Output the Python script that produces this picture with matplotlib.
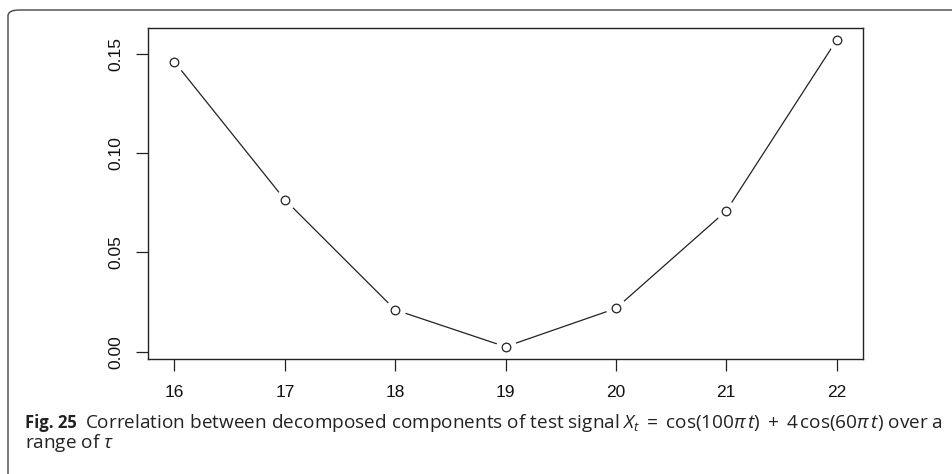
import matplotlib.pyplot as plt
from matplotlib.patches import FancyBboxPatch

# correlation between decomposed components for each embedding lag tau
tau = [16, 17, 18, 19, 20, 21, 22]
corr = [0.146, 0.0766, 0.0211, 0.0025, 0.0218, 0.0709, 0.1569]
yticks = [0.00, 0.05, 0.10, 0.15]
ytick_labels = ['0.00', '0.05', '0.10', '0.15']

caption_bold = 'Fig. 25'
caption_line1 = (r'Correlation between decomposed components of test signal '
                 r'$X_t\;=\;\mathrm{cos}(100\pi\,t)\;+\;4\,\mathrm{cos}(60\pi\,t)$ over a')
caption_line2 = r'range of $\tau$'

plt.rcParams['font.family'] = ['Liberation Sans', 'DejaVu Sans']
plt.rcParams['mathtext.fontset'] = 'custom'
plt.rcParams['mathtext.rm'] = 'Open Sans'
plt.rcParams['mathtext.it'] = 'Open Sans:italic'
plt.rcParams['mathtext.bf'] = 'Open Sans:bold'

W, H = 953, 474
fig = plt.figure(figsize=(W / 100, H / 100), dpi=100)

# outer frame of the figure panel, rounded at the top-left corner
frame = FancyBboxPatch((8 / W, -0.2), 1.2, 1 - 10 / H + 0.2,
                       boxstyle='round,pad=0,rounding_size=0.012',
                       transform=fig.transFigure, fill=False,
                       edgecolor='#444444', linewidth=1.0)
fig.patches.append(frame)

ax = fig.add_axes([148 / W, 1 - 359 / H, (863 - 148) / W, (359 - 28) / H])

# R style "type b": line broken around each open circle
ax.plot(tau, corr, color='#222222', linewidth=0.9, zorder=2)
ax.plot(tau, corr, linestyle='none', marker='o', markersize=14,
        markerfacecolor='white', markeredgecolor='white', zorder=2.1)
ax.plot(tau, corr, linestyle='none', marker='o', markersize=6.2,
        markerfacecolor='white', markeredgecolor='#222222',
        markeredgewidth=0.9, zorder=2.2)

xpad = 0.04 * (max(tau) - min(tau))
ypad = 0.04 * (max(corr) - min(corr))
ax.set_xlim(min(tau) - xpad, max(tau) + xpad)
ax.set_ylim(min(corr) - ypad, max(corr) + ypad)

ax.set_xticks(tau)
ax.set_xticklabels([str(t) for t in tau])
ax.set_yticks(yticks)
ax.set_yticklabels(ytick_labels, rotation=90, va='center')

for s in ax.spines.values():
    s.set_linewidth(1.0)
    s.set_color('#222222')
ax.tick_params(direction='out', length=8.5, width=0.9, color='#222222',
               labelsize=12.5, labelcolor='#111111')
ax.tick_params(axis='x', pad=10)
ax.tick_params(axis='y', pad=9)

# caption below the plot
cap_font = dict(family=['Open Sans', 'DejaVu Sans'], color='#222222', va='baseline')
t1 = fig.text(25 / W, 1 - 428 / H, caption_bold, fontweight='bold',
              fontsize=12, **cap_font)
fig.canvas.draw()
bb = t1.get_window_extent()
fig.text((bb.x1 + 8) / W, 1 - 428 / H, caption_line1, fontsize=13.7, **cap_font)
fig.text(25 / W, 1 - 448 / H, caption_line2, fontsize=13.7, **cap_font)

fig.savefig('out.png', dpi=100)
